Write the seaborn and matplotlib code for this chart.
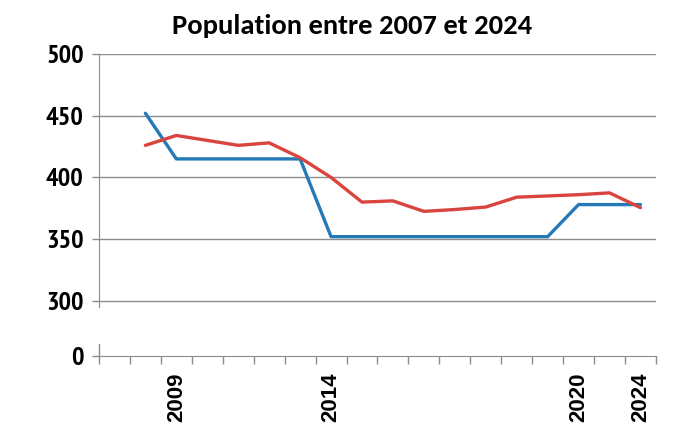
import numpy as np
import pandas as pd
import matplotlib
matplotlib.use("Agg")
import matplotlib.pyplot as plt
import seaborn as sns

# Category slots on the x axis (Excel-style category axis, 18 slots)
positions = list(range(18))
tick_labels = ["", "", "2009", "", "", "", "", "2014", "", "", "", "", "", "", "", "2020", "", "2024"]

# Two series (first slot empty)
serie_bleue = [np.nan, 452, 415, 415, 415, 415, 415, 352, 352, 352, 352, 352, 352, 352, 352, 378, 378, 378]
serie_rouge = [np.nan, 426, 434, 430, 426, 428, 416, 400, 380, 381, 372.5, 374, 376, 384, 385, 386, 387.5, 375.5]

y_ticks = [300, 350, 400, 450, 500]
y_labels = ["300", "350", "400", "450", "500"]

sns.set_style("white")
plt.rcParams["font.family"] = ["PT Sans Narrow", "Liberation Sans", "DejaVu Sans"]
plt.rcParams["text.color"] = "black"
plt.rcParams["xtick.color"] = "black"
plt.rcParams["ytick.color"] = "black"

df = pd.DataFrame({"pos": positions, "bleue": serie_bleue, "rouge": serie_rouge})

fig = plt.figure(figsize=(6.79, 4.28), dpi=100)
ax = fig.add_axes([0.1458, 0.1682, 0.966 - 0.1458, 0.8738 - 0.1682])

sns.lineplot(data=df, x="pos", y="bleue", color="#2479b6", linewidth=2.4, ax=ax)
sns.lineplot(data=df, x="pos", y="rouge", color="#d9443f", linewidth=2.4, ax=ax)

# broken y axis: bottom of the axes stands for 0
y_bottom = 255.3
ax.set_ylim(y_bottom, 500)
ax.set_xlim(-0.5, 17.5)

for v in y_ticks:
    ax.axhline(v, color="#8c8c8c", linewidth=1.0, zorder=0)

ax.set_yticks([y_bottom] + y_ticks)
ax.set_yticklabels(["0"] + y_labels, fontsize=19, fontweight="bold")
ax.tick_params(axis="y", left=True, direction="out", length=5, width=1,
               color="#8c8c8c", labelcolor="black", pad=6)

ax.set_xticks(positions)
ax.set_xticklabels(tick_labels, rotation=90, fontsize=16, fontweight="bold",
                   family=["Liberation Sans", "DejaVu Sans"], va="top")
ax.tick_params(axis="x", which="major", bottom=False, length=0, pad=12, labelcolor="black")
ax.set_xticks(np.arange(-0.5, 18, 1), minor=True)
ax.tick_params(axis="x", which="minor", bottom=True, direction="out", length=6, width=1,
               color="#8c8c8c")

for s in ["top", "right"]:
    ax.spines[s].set_visible(False)
ax.spines["bottom"].set_color("#8c8c8c")
ax.spines["left"].set_color("#8c8c8c")
ax.spines["left"].set_bounds(295, 500)
ax.plot([-0.5, -0.5], [y_bottom, 265], color="#8c8c8c", linewidth=1, clip_on=False)

ax.set_xlabel("")
ax.set_ylabel("")
fig.text(0.518, 0.94, "Population entre 2007 et 2024", ha="center", va="center",
         fontsize=20.5, fontweight="bold", family=["Carlito", "DejaVu Sans"])

fig.savefig("out.png", dpi=100)
